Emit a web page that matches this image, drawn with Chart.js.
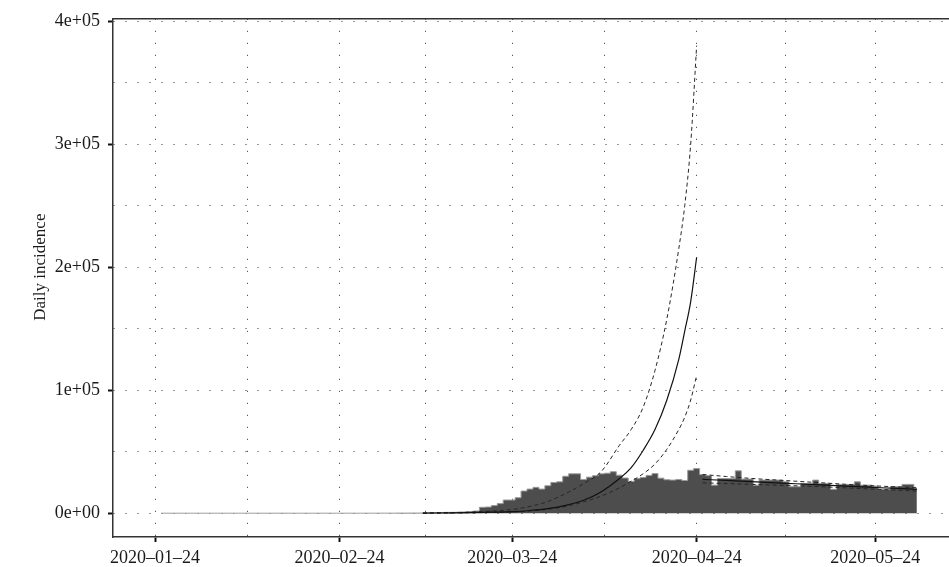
<!DOCTYPE html>
<html>
<head>
<meta charset="utf-8">
<script src="https://cdn.jsdelivr.net/npm/chart.js@4.4.1/dist/chart.umd.min.js"></script>
<style>
  html, body { margin: 0; padding: 0; background: #ffffff; }
  #incidenceChart { display: block; }
</style>
</head>
<body>
<canvas id="incidenceChart" width="949" height="567"></canvas>
<script>
// axis origin and tick setup
const axisOrigin = '2020-01-24';
const xGridDays = [0, 15.5, 31, 45.5, 60, 75.5, 91, 106, 121]; // days after origin
const xTickLabels = ['2020–01–24', '', '2020–02–24', '', '2020–03–24', '', '2020–04–24', '', '2020–05–24'];
const yTickValues = [0, 50000, 100000, 150000, 200000, 250000, 300000, 350000, 400000];
const yTickLabels = ['0e+00', '', '1e+05', '', '2e+05', '', '3e+05', '', '4e+05'];
const yTitle = 'Daily incidence';

// daily incidence, one value per day starting here
const casesStart = '2020-01-25';
const casesJanFeb = [0, 0, 0, 0, 0, 0, 0, 0, 0, 0, 0, 0, 0, 0, 0, 0, 0, 0,
  0, 0, 0, 0, 0, 0, 0, 0, 0, 0, 0, 0, 0, 0, 0, 0, 0, 0];
const casesMar = [10, 20, 20, 30, 70, 80, 110, 120, 170, 300, 380, 500, 650,
  700, 800, 1000, 1400, 1800, 4800, 5000, 6200, 7800, 10700, 10700, 12600, 18000, 19600, 21000, 19600, 22300, 25000];
const casesApr = [25500, 30000, 32000, 32000, 27400, 29300, 30500, 32000, 32500, 33700,
  30900, 28600, 25800, 28100, 29000, 30700, 32200, 28500, 27200, 26900,
  27400, 26600, 34900, 36300, 31400, 30500, 22800, 28200, 28200, 28200];
const casesMay = [34400, 27700, 27700, 22800, 26900, 26900, 26900, 26900, 25500, 21500,
  21500, 24200, 24200, 26900, 24200, 24200, 19400, 23400, 23400, 23400,
  25500, 22800, 22800, 22000, 19400, 19400, 21500, 21500, 23400, 23400, 20200];

// projection before 2020-04-24
const projDates = ['2020-03-09', '2020-03-14', '2020-03-19', '2020-03-24', '2020-03-27', '2020-03-30',
  '2020-04-02', '2020-04-05', '2020-04-08', '2020-04-11', '2020-04-13', '2020-04-15',
  '2020-04-17', '2020-04-19', '2020-04-21', '2020-04-22', '2020-04-23', '2020-04-24'];
const projMid = [100, 300, 700, 1300, 2200, 3700, 6300, 10500, 17500, 28000, 37000, 51000,
  68000, 92000, 125000, 148000, 172000, 208000];
const projUpper = [100, 500, 1300, 3000, 5500, 9500, 16000, 24000, 34000, 55000, 68000, 86000,
  116000, 158000, 215000, 250000, 300000, 380000];
const projLower = [50, 200, 500, 1000, 1800, 3200, 5500, 9200, 14000, 20500, 26000, 32000,
  40000, 52000, 68000, 78000, 92000, 112000];

// fit after 2020-04-24
const fitDates = ['2020-04-25', '2020-04-29', '2020-05-04', '2020-05-09', '2020-05-14', '2020-05-19', '2020-05-24', '2020-05-31'];
const fitMid = [27500, 26600, 25400, 24300, 23200, 22000, 20900, 19400];
const fitUpper = [31500, 29800, 28000, 26500, 25000, 23500, 22200, 20700];
const fitLower = [24700, 24100, 23300, 22500, 21700, 20600, 19500, 18000];

const serifFont = "'Liberation Serif', 'DejaVu Serif', serif";
const textColor = '#1a1a1a';

function dayOf(dateText) { // days between origin and a date
  return (Date.parse(dateText) - Date.parse(axisOrigin)) / 86400000;
}

function toPoints(dates, values) { // pair dates with values
  return values.map((v, i) => ({ x: dayOf(dates[i]), y: v }));
}

const dailyCases = [...casesJanFeb, ...casesMar, ...casesApr, ...casesMay];
const firstDay = dayOf(casesStart);
const casePoints = dailyCases.map((v, i) => ({ x: firstDay + i, y: v }));

function curve(points, dashed) { // line dataset for fitted curves
  return {
    type: 'line',
    data: points,
    borderColor: dashed ? '#262626' : '#111111',
    borderWidth: dashed ? 1 : 1.2,
    borderDash: dashed ? [4, 3] : [],
    pointRadius: 0,
    fill: false,
    cubicInterpolationMode: 'monotone',
    order: 0
  };
}

// top edge of the box and the rotated axis title
const boxAndTitle = {
  id: 'boxAndTitle',
  afterDraw(chart) {
    const { ctx, chartArea, scales } = chart;
    ctx.save();
    ctx.strokeStyle = '#333333';
    ctx.lineWidth = 1.5;
    ctx.beginPath();
    ctx.moveTo(chartArea.left, chartArea.top);
    ctx.lineTo(chartArea.right, chartArea.top);
    ctx.stroke();

    // title sits level with the middle labelled tick, as in R's plot region
    const midY = scales.y.getPixelForValue(yTickValues[4]);
    ctx.translate(41, midY);
    ctx.rotate(-Math.PI / 2);
    ctx.fillStyle = textColor;
    ctx.font = `17px ${serifFont}`;
    ctx.textAlign = 'center';
    ctx.textBaseline = 'middle';
    ctx.fillText(yTitle, 0, 0);
    ctx.restore();
  }
};

const gridDots = 'rgba(0,0,0,0.8)';

new Chart(document.getElementById('incidenceChart').getContext('2d'), {
  type: 'line',
  data: {
    datasets: [
      {
        data: casePoints,
        stepped: 'middle',
        fill: 'origin',
        backgroundColor: '#4d4d4d',
        borderColor: '#9a9a9a',
        borderWidth: 1,
        pointRadius: 0,
        order: 10
      },
      curve(toPoints(projDates, projMid), false),
      curve(toPoints(projDates, projUpper), true),
      curve(toPoints(projDates, projLower), true),
      curve(toPoints(fitDates, fitMid), false),
      curve(toPoints(fitDates, fitUpper), true),
      curve(toPoints(fitDates, fitLower), true)
    ]
  },
  options: {
    responsive: false,
    devicePixelRatio: 1,
    animation: false,
    layout: { padding: { top: 15, right: 0, left: 0, bottom: 0 } },
    plugins: { legend: { display: false }, tooltip: { enabled: false } },
    scales: {
      x: {
        type: 'linear',
        min: -7.06,
        max: 133.4,
        afterFit: (scale) => { scale.height = 30; },
        afterBuildTicks: (scale) => { scale.ticks = xGridDays.map(v => ({ value: v })); },
        ticks: {
          autoSkip: false,
          maxRotation: 0,
          padding: 5,
          color: textColor,
          font: { family: serifFont, size: 18 },
          callback: (value, index) => xTickLabels[index]
        },
        grid: {
          color: gridDots,
          lineWidth: 1,
          drawTicks: true,
          tickLength: 5,
          tickWidth: 2,
          tickColor: (ctx) => (xTickLabels[ctx.index] ? '#111111' : 'rgba(0,0,0,0)')
        },
        border: { display: true, color: '#333333', width: 1.5, dash: [1, 11] }
      },
      y: {
        type: 'linear',
        min: -19350,
        max: 401850,
        afterFit: (scale) => { scale.width = 113; },
        afterBuildTicks: (scale) => { scale.ticks = yTickValues.map(v => ({ value: v })); },
        ticks: {
          padding: 8,
          color: textColor,
          font: { family: serifFont, size: 18 },
          callback: (value, index) => yTickLabels[index]
        },
        grid: {
          color: gridDots,
          lineWidth: 1,
          drawTicks: true,
          tickLength: 5,
          tickWidth: 2,
          tickColor: (ctx) => (yTickLabels[ctx.index] ? '#111111' : 'rgba(0,0,0,0)')
        },
        border: { display: true, color: '#333333', width: 1.5, dash: [1, 11] }
      }
    }
  },
  plugins: [boxAndTitle]
});
</script>
</body>
</html>
